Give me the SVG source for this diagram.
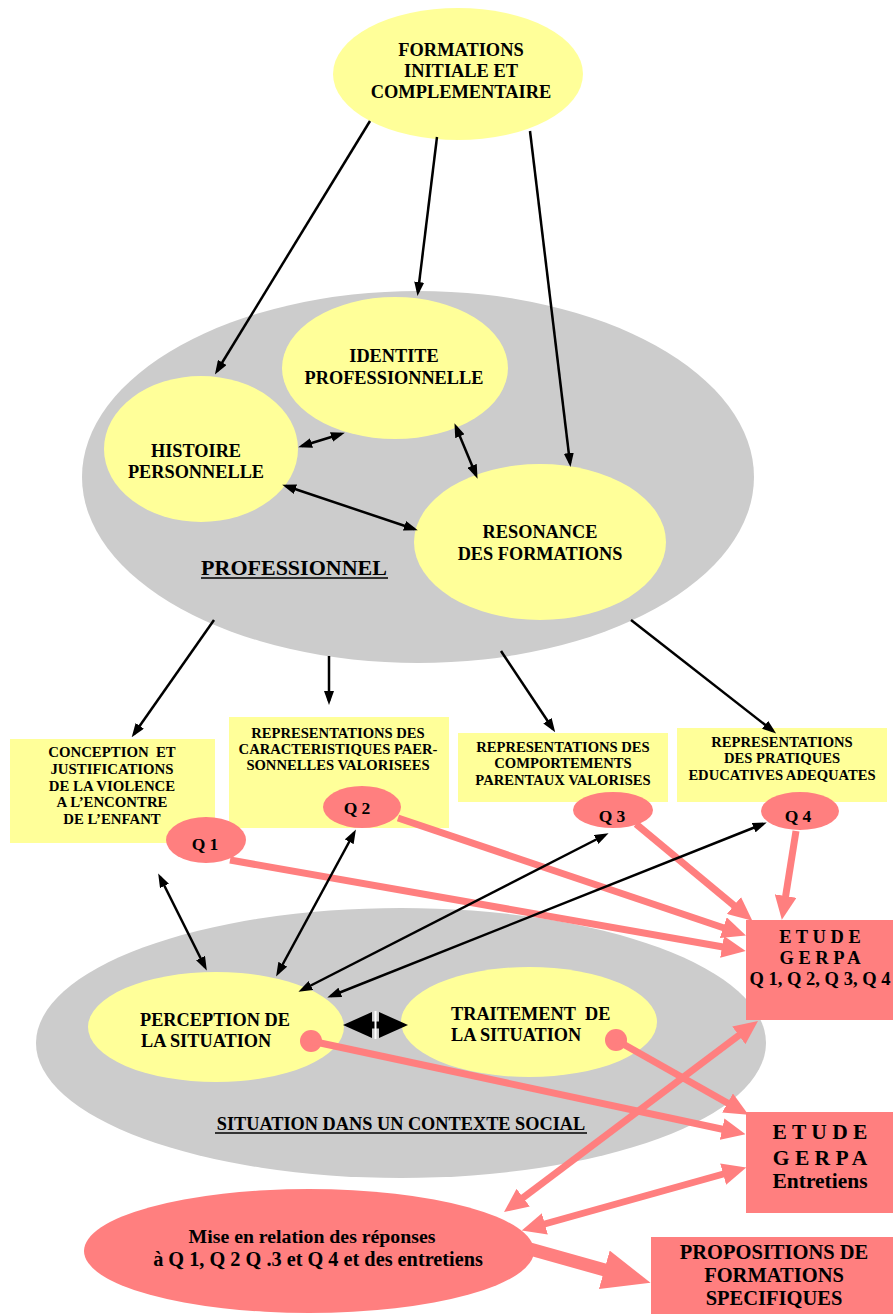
<svg xmlns="http://www.w3.org/2000/svg" width="893" height="1314" viewBox="0 0 893 1314">
<style>
.t{font-family:"Liberation Serif","Times New Roman",serif;font-weight:bold;fill:#000;text-anchor:middle}
.ts{font-family:"Liberation Serif","Times New Roman",serif;font-weight:bold;fill:#000;text-anchor:start}
.yel{fill:#FFFF99}
.gray{fill:#CCCCCC}
.pink{fill:#FF7F7F}
.bl{stroke:#000;stroke-width:2.5;fill:none}
.pl{stroke:#FF7F7F;stroke-width:7;fill:none}
.ul{stroke:#000;stroke-width:1.5}
</style>
<defs>
<marker id="ab" markerUnits="userSpaceOnUse" markerWidth="14" markerHeight="10" refX="10" refY="5" orient="auto-start-reverse" viewBox="0 0 14 10">
<path d="M0,0 L14,5 L0,10 z" fill="#000"/>
</marker>
<marker id="ap" markerUnits="userSpaceOnUse" markerWidth="24" markerHeight="22" refX="4" refY="11" orient="auto-start-reverse" viewBox="0 0 24 22">
<path d="M0,0 L24,11 L0,22 z" fill="#FF7F7F"/>
</marker>
<marker id="abig" markerUnits="userSpaceOnUse" markerWidth="48" markerHeight="40" refX="8" refY="20" orient="auto" viewBox="0 0 48 40">
<path d="M0,0 L48,20 L0,40 z" fill="#FF7F7F"/>
</marker>
</defs>
<rect width="893" height="1314" fill="#fff"/>

<g id="professionnel">
<ellipse class="gray" cx="418" cy="477" rx="336" ry="186"/>
<text class="t" x="294" y="575" font-size="22">PROFESSIONNEL</text>
<line class="ul" x1="201" y1="578" x2="388" y2="578"/>
</g>
<g id="situation-contexte">
<ellipse class="gray" cx="401" cy="1043" rx="365" ry="135"/>
<text class="t" x="401" y="1130" font-size="18.3">SITUATION DANS UN CONTEXTE SOCIAL</text>
<line class="ul" x1="215" y1="1133" x2="587" y2="1133"/>
</g>

<g id="formations">
<ellipse class="yel" cx="458" cy="74" rx="125" ry="66"/>
<text class="t" x="461" y="56" font-size="18.4">FORMATIONS</text>
<text class="t" x="461" y="77" font-size="18.4">INITIALE ET</text>
<text class="t" x="461" y="98" font-size="18.4">COMPLEMENTAIRE</text>
</g>
<g id="identite">
<ellipse class="yel" cx="395" cy="368" rx="113" ry="71"/>
<text class="t" x="394" y="362" font-size="18.3">IDENTITE</text>
<text class="t" x="394" y="384" font-size="18.3">PROFESSIONNELLE</text>
</g>
<g id="histoire">
<ellipse class="yel" cx="201" cy="449" rx="97" ry="73"/>
<text class="t" x="196" y="457" font-size="18.3">HISTOIRE</text>
<text class="t" x="196" y="478" font-size="18.3">PERSONNELLE</text>
</g>
<g id="resonance">
<ellipse class="yel" cx="540" cy="542" rx="126" ry="78"/>
<text class="t" x="540" y="538" font-size="18.3">RESONANCE</text>
<text class="t" x="540" y="560" font-size="18.3">DES FORMATIONS</text>
</g>

<g id="conception">
<rect class="yel" x="10" y="739" width="205" height="104"/>
<text class="t" x="112" y="757" font-size="14.8">CONCEPTION&#160; ET</text>
<text class="t" x="112" y="774" font-size="14.8">JUSTIFICATIONS</text>
<text class="t" x="112" y="791" font-size="14.8">DE LA VIOLENCE</text>
<text class="t" x="112" y="807" font-size="14.8">A L’ENCONTRE</text>
<text class="t" x="112" y="824" font-size="14.8">DE L’ENFANT</text>
</g>
<g id="caracteristiques">
<rect class="yel" x="229" y="717" width="220" height="111"/>
<text class="t" x="338" y="738" font-size="14.6">REPRESENTATIONS DES</text>
<text class="t" x="338" y="754" font-size="14.6">CARACTERISTIQUES PAER-</text>
<text class="t" x="338" y="770" font-size="14.6">SONNELLES VALORISEES</text>
</g>
<g id="comportements">
<rect class="yel" x="458" y="733" width="210" height="69"/>
<text class="t" x="563" y="752" font-size="14.6">REPRESENTATIONS DES</text>
<text class="t" x="563" y="768" font-size="14.6">COMPORTEMENTS</text>
<text class="t" x="563" y="785" font-size="14.6">PARENTAUX VALORISES</text>
</g>
<g id="pratiques">
<rect class="yel" x="677" y="728" width="210" height="74"/>
<text class="t" x="782" y="747" font-size="14.6">REPRESENTATIONS</text>
<text class="t" x="782" y="763" font-size="14.6">DES PRATIQUES</text>
<text class="t" x="782" y="780" font-size="14.6">EDUCATIVES ADEQUATES</text>
</g>

<g id="perception">
<ellipse class="yel" cx="216" cy="1027" rx="128" ry="55"/>
<text class="ts" x="140" y="1026" font-size="18.3">PERCEPTION DE</text>
<text class="ts" x="141" y="1047" font-size="18.3">LA SITUATION</text>
<circle class="pink" cx="311" cy="1041" r="11"/>
</g>
<g id="traitement">
<ellipse class="yel" cx="529" cy="1022" rx="128" ry="55"/>
<text class="ts" x="451" y="1020" font-size="18.3">TRAITEMENT&#160; DE</text>
<text class="ts" x="451" y="1041" font-size="18.3">LA SITUATION</text>
<circle class="pink" cx="616" cy="1040" r="11"/>
</g>

<g id="etude-q">
<rect class="pink" x="746" y="920" width="147" height="100"/>
<text class="t" x="820" y="943" font-size="18.5">E T U D E</text>
<text class="t" x="820" y="964" font-size="18.5">G E R P A</text>
<text class="t" x="820" y="985" font-size="18.5">Q 1, Q 2, Q 3, Q 4</text>
</g>
<g id="etude-entretiens">
<rect class="pink" x="746" y="1112" width="147" height="101"/>
<text class="t" x="820" y="1139" font-size="21.5">E T U D E</text>
<text class="t" x="820" y="1165" font-size="21.5">G E R P A</text>
<text class="t" x="820" y="1188" font-size="21.5">Entretiens</text>
</g>
<g id="propositions">
<rect class="pink" x="651" y="1237" width="242" height="77"/>
<text class="t" x="774" y="1259" font-size="20.5">PROPOSITIONS DE</text>
<text class="t" x="774" y="1282" font-size="20.5">FORMATIONS</text>
<text class="t" x="774" y="1305" font-size="20.5">SPECIFIQUES</text>
</g>
<g id="mise-en-relation">
<ellipse class="pink" cx="309" cy="1251" rx="225" ry="62"/>
<text class="t" x="312" y="1243" font-size="19.8">Mise en relation des réponses</text>
<text class="t" x="318" y="1266" font-size="20.3">à Q 1, Q 2 Q .3 et Q 4 et des entretiens</text>
</g>

<g id="connectors">
<line class="pl" x1="230" y1="860" x2="726" y2="947.5" marker-end="url(#ap)"/>
<line class="pl" x1="398" y1="818" x2="727" y2="929" marker-end="url(#ap)"/>
<line class="pl" x1="636" y1="824" x2="737" y2="908" marker-end="url(#ap)"/>
<line class="pl" x1="796" y1="831" x2="785" y2="900" marker-end="url(#ap)"/>
<line class="pl" x1="311" y1="1041" x2="726" y2="1130" marker-end="url(#ap)"/>
<line class="pl" x1="616" y1="1040" x2="731" y2="1105" marker-end="url(#ap)"/>
<line class="pl" x1="520" y1="1200" x2="742" y2="1033" marker-start="url(#ap)" marker-end="url(#ap)"/>
<line class="pl" x1="541" y1="1225" x2="727" y2="1173" marker-start="url(#ap)" marker-end="url(#ap)"/>
<line stroke="#FF7F7F" stroke-width="13" x1="530" y1="1249" x2="612" y2="1272" marker-end="url(#abig)"/>

<line class="bl" x1="370" y1="121" x2="217" y2="371" marker-end="url(#ab)"/>
<line class="bl" x1="437" y1="137" x2="418" y2="292" marker-end="url(#ab)"/>
<line class="bl" x1="530" y1="131" x2="570" y2="463" marker-end="url(#ab)"/>
<line class="bl" x1="302" y1="446" x2="341" y2="434" marker-start="url(#ab)" marker-end="url(#ab)"/>
<line class="bl" x1="456" y1="427" x2="476" y2="475" marker-start="url(#ab)" marker-end="url(#ab)"/>
<line class="bl" x1="286" y1="486" x2="414" y2="529" marker-start="url(#ab)" marker-end="url(#ab)"/>
<line class="bl" x1="214" y1="620" x2="134" y2="734" marker-end="url(#ab)"/>
<line class="bl" x1="329" y1="656" x2="329" y2="701" stroke-width="3.5" marker-end="url(#ab)"/>
<line class="bl" x1="501" y1="651" x2="553" y2="729" marker-end="url(#ab)"/>
<line class="bl" x1="631" y1="620" x2="773" y2="731" marker-end="url(#ab)"/>
<line class="bl" x1="160" y1="877" x2="205" y2="967" marker-start="url(#ab)" marker-end="url(#ab)"/>
<line class="bl" x1="354" y1="833" x2="278" y2="973" marker-start="url(#ab)" marker-end="url(#ab)"/>
<line class="bl" x1="605" y1="835" x2="302" y2="990" marker-start="url(#ab)" marker-end="url(#ab)"/>
<line class="bl" x1="763" y1="824" x2="331" y2="996" marker-start="url(#ab)" marker-end="url(#ab)"/>
<g id="perception-traitement">
<line stroke="#000" stroke-width="7" x1="365" y1="1025" x2="386" y2="1025"/>
<polygon points="343,1025 372,1012 372,1038" fill="#000"/>
<polygon points="408,1025 379,1012 379,1038" fill="#000"/>
<line stroke="#fff" stroke-width="2" x1="375.5" y1="1011" x2="375.5" y2="1039"/>
</g>
</g>

<g id="q1">
<ellipse class="pink" cx="206" cy="840" rx="40" ry="23"/>
<text class="t" x="205" y="850" font-size="17.5">Q 1</text>
</g>
<g id="q2">
<ellipse class="pink" cx="362" cy="807" rx="39" ry="21"/>
<text class="t" x="357" y="814" font-size="17.5">Q 2</text>
</g>
<g id="q3">
<ellipse class="pink" cx="613" cy="810" rx="40" ry="18"/>
<text class="t" x="612" y="822" font-size="17.5">Q 3</text>
</g>
<g id="q4">
<ellipse class="pink" cx="800" cy="811" rx="39" ry="19"/>
<text class="t" x="798" y="822" font-size="17.5">Q 4</text>
</g>
</svg>
